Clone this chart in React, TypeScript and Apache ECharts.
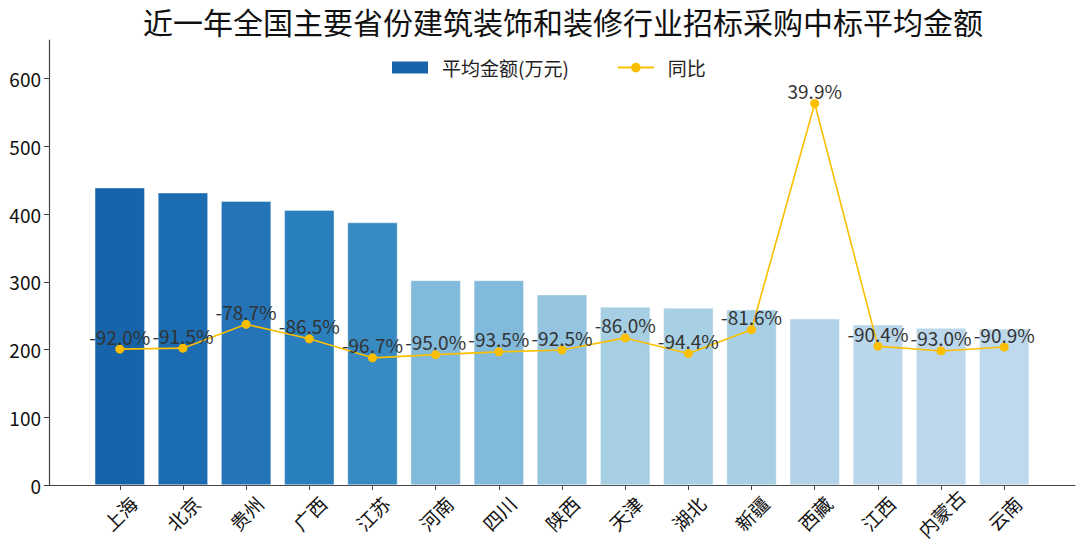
import React, { useEffect, useRef } from "react";
import * as echarts from "echarts";

const categories = ["上海", "北京", "贵州", "广西", "江苏", "河南", "四川", "陕西", "天津", "湖北", "新疆", "西藏", "江西", "内蒙古", "云南"];
const avgAmount = [438.8, 431.4, 419, 405.7, 387.5, 302, 302, 281, 262.8, 261.3, 258.8, 245.5, 236.6, 231.7, 230.7];
const yoy = [-92.0, -91.5, -78.7, -86.5, -96.7, -95.0, -93.5, -92.5, -86.0, -94.4, -81.6, 39.9, -90.4, -93.0, -90.9];
const barColors = ["#1764ab", "#1b6cb1", "#2474b7", "#2a7fbd", "#388ac2", "#82badb", "#82badb", "#94c4df", "#a6cfe4", "#a8d0e5", "#a8d0e5", "#b3d3e8", "#bad6eb", "#bcd7eb", "#bed8ec"];
const yTicks = [0, 100, 200, 300, 400, 500, 600];

const FONT = "Noto Sans CJK SC";

export default function App() {
  const ref = useRef<HTMLDivElement>(null);
  useEffect(() => {
    if (!ref.current) return;
    const chart = echarts.init(ref.current, undefined, { renderer: "svg" });
    const idx = categories.map((_, i) => i);
    chart.setOption({
      animation: false,
      textStyle: { fontFamily: FONT },
      title: {
        text: "近一年全国主要省份建筑装饰和装修行业招标采购中标平均金额",
        left: 138,
        top: 1,
        textStyle: { fontFamily: FONT, fontSize: 30, fontWeight: "normal", color: "#111" },
      },
      legend: {
        top: 53,
        left: 387,
        itemGap: 48,
        itemWidth: 36,
        itemHeight: 12,
        textStyle: { fontFamily: FONT, fontSize: 19, color: "#222", padding: [0, 0, 0, 9] },
        data: [
          { name: "平均金额(万元)", icon: "rect", itemStyle: { color: barColors[0] } },
          { name: "同比" },
        ],
      },
      grid: { left: 49, right: 5, top: 40, bottom: 75, containLabel: false },
      xAxis: {
        type: "value",
        min: -1.12,
        max: 15.12,
        splitLine: { show: false },
        axisLine: { show: true, onZero: false, lineStyle: { color: "#444", width: 1.2 } },
        axisTick: { show: true, length: 5, lineStyle: { color: "#444" }, customValues: idx },
        axisLabel: {
          customValues: idx,
          formatter: (v: number) => categories[Math.round(v)] ?? "",
          rotate: 45,
          align: "center",
          verticalAlign: "middle",
          margin: 28,
          fontFamily: FONT,
          fontSize: 19,
          color: "#111",
        },
      },
      yAxis: [
        {
          type: "value",
          min: 0,
          max: 657,
          interval: 100,
          splitLine: { show: false },
          axisLine: { show: true, onZero: false, lineStyle: { color: "#444", width: 1.2 } },
          axisTick: { show: true, length: 5, lineStyle: { color: "#444" }, customValues: yTicks },
          axisLabel: { customValues: yTicks, fontFamily: FONT, fontSize: 19, color: "#111", margin: 8 },
        },
        {
          type: "value",
          min: -165,
          max: 74,
          show: false,
          splitLine: { show: false },
        },
      ],
      series: [
        {
          name: "平均金额(万元)",
          type: "bar",
          barWidth: 50,
          yAxisIndex: 0,
          data: avgAmount.map((v, i) => ({
            value: [i, v],
            itemStyle: { color: barColors[i], borderColor: "rgba(255,255,255,0.6)", borderWidth: 0.6 },
          })),
        },
        {
          name: "同比",
          type: "line",
          yAxisIndex: 1,
          symbol: "circle",
          symbolSize: 9,
          z: 5,
          itemStyle: { color: "#fbbf00" },
          lineStyle: { color: "#fbbf00", width: 1.6 },
          label: {
            show: true,
            position: "top",
            distance: -1,
            fontFamily: FONT,
            fontSize: 19,
            color: "#333",
            formatter: (p: any) => p.value[1].toFixed(1) + "%",
          },
          data: yoy.map((v, i) => [i, v]),
        },
      ],
    });
    return () => chart.dispose();
  }, []);
  return <div ref={ref} style={{ position: "absolute", left: 0, top: 0, width: 1080, height: 560 }} />;
}
